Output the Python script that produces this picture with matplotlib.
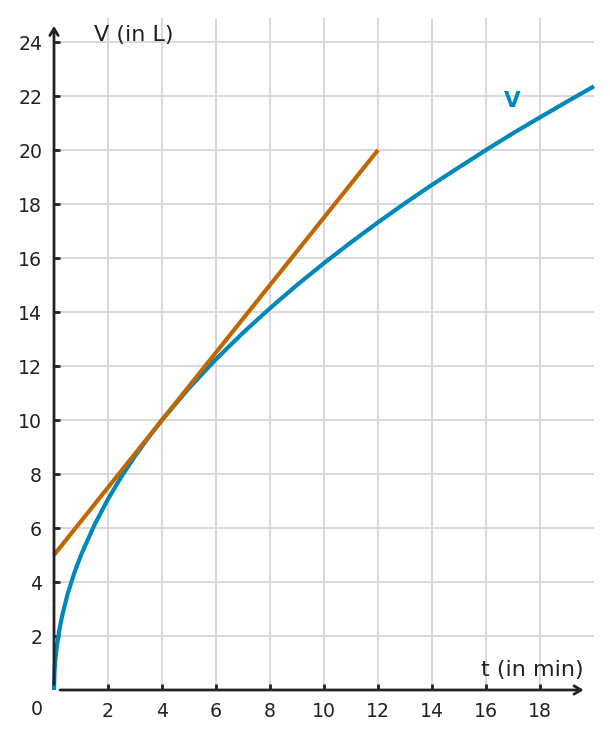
import matplotlib.pyplot as plt

plt.rcParams['font.family'] = ['DejaVu Sans']

# volume curve V(t)
t_curve = [0, 0.02, 0.05, 0.1, 0.2, 0.3, 0.5, 0.75, 1, 1.5, 2, 2.5, 3, 3.5, 4, 5, 6, 7, 8,
           9, 10, 11, 12, 13, 14, 15, 16, 17, 18, 19, 20]
v_curve = [0, 0.71, 1.12, 1.58, 2.24, 2.74, 3.54, 4.33, 5.0, 6.12, 7.07, 7.91, 8.66, 9.35,
           10.0, 11.18, 12.25, 13.23, 14.14, 15.0, 15.81, 16.58, 17.32, 18.03, 18.71,
           19.36, 20.0, 20.62, 21.21, 21.79, 22.36]

# tangent line
t_tan = [0, 12]
v_tan = [5, 20]

x_ticks = [2, 4, 6, 8, 10, 12, 14, 16, 18]
y_ticks = [2, 4, 6, 8, 10, 12, 14, 16, 18, 20, 22, 24]

blue = "#0088bb"
orange = "#c06800"
axis_col = "#222222"
grid_col = "#d8d8d8"

W, H = 610, 739
fig = plt.figure(figsize=(W / 100, H / 100), dpi=100)
ax = fig.add_axes([54 / W, (H - 690) / H, 540 / W, 672 / H])
ax.set_xlim(0, 20)
ax.set_ylim(0, 672 / 27)

for s in ax.spines.values():
    s.set_visible(False)

for x in x_ticks:
    ax.plot([x, x], [0, 672 / 27], color=grid_col, lw=1.4, zorder=0)
for y in y_ticks:
    ax.plot([0, 20], [y, y], color=grid_col, lw=1.4, zorder=0)

ax.plot(t_curve, v_curve, color=blue, lw=3, solid_capstyle="butt", zorder=3, clip_on=False)
ax.plot(t_tan, v_tan, color=orange, lw=3, solid_capstyle="butt", zorder=4, clip_on=False)

# axes with arrows
ax.annotate("", xy=(19.72, 0), xytext=(0.12, 0),
            arrowprops=dict(arrowstyle="->,head_length=0.5,head_width=0.3",
                            color=axis_col, lw=2), zorder=5, annotation_clip=False)
ax.annotate("", xy=(0, 24.7), xytext=(0, 0.1),
            arrowprops=dict(arrowstyle="->,head_length=0.5,head_width=0.3",
                            color=axis_col, lw=2), zorder=5, annotation_clip=False)

ax.set_xticks(x_ticks)
ax.set_yticks(y_ticks)
ax.set_xticklabels([str(v) for v in x_ticks])
ax.set_yticklabels([str(v) for v in y_ticks])
ax.tick_params(direction="in", length=4, width=2, color=axis_col,
               labelsize=13.6, labelcolor=axis_col)
ax.tick_params(axis="x", pad=8.5)
ax.tick_params(axis="y", pad=8.5)

ax.text(-0.63, -0.74, "0", fontsize=13.6, color=axis_col, ha="center", va="center")
ax.text(1.5, 24.26, "V (in L)", fontsize=16, color=axis_col, ha="left", va="center")
ax.text(19.6, 0.74, "t (in min)", fontsize=16, color=axis_col, ha="right", va="center")
ax.text(16.96, 21.8, "V", fontsize=15.5, color=blue, fontweight="bold", ha="center", va="center")

fig.savefig("out.png", dpi=100)
